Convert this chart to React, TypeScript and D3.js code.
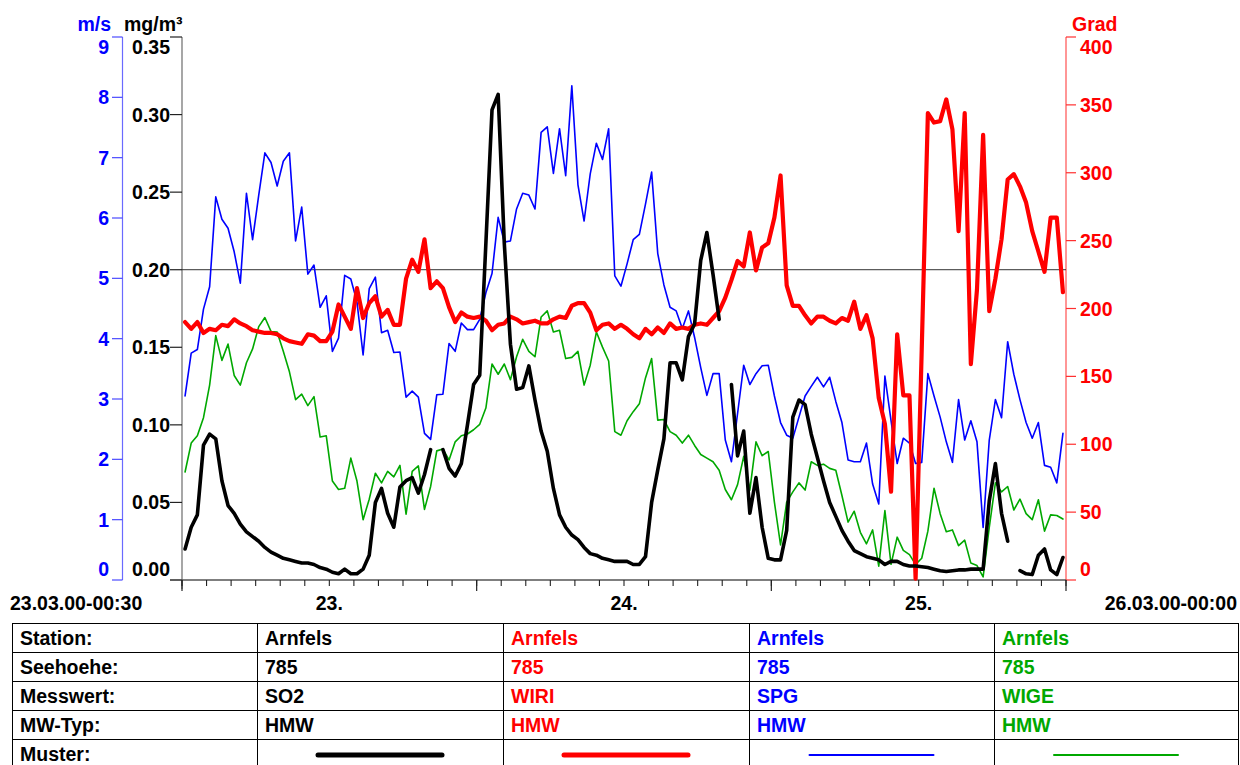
import React from 'react';
import * as d3 from 'd3';

// ---------------- data (half-hour means, 23.03.00 00:30 … 26.03.00 00:00) ----------------
const so2: (number | null)[] = [
  0.020, 0.034, 0.042, 0.087, 0.094, 0.091, 0.064, 0.048, 0.043, 0.036, 0.031, 0.028, 0.025, 0.021, 0.018, 0.016, 0.014, 0.013, 0.012, 0.011, 0.011, 0.010, 0.008, 0.007,
  0.005, 0.004, 0.007, 0.004, 0.004, 0.007, 0.016, 0.050, 0.059, 0.043, 0.034, 0.060, 0.064, 0.066, 0.056, 0.068, 0.084, null, 0.084, 0.072, 0.067, 0.075, 0.100, 0.126,
  0.132, 0.217, 0.303, 0.313, 0.217, 0.152, 0.123, 0.124, 0.138, 0.116, 0.096, 0.083, 0.059, 0.042, 0.034, 0.029, 0.026, 0.021, 0.017, 0.016, 0.014, 0.013, 0.012, 0.012,
  0.012, 0.010, 0.010, 0.015, 0.050, 0.071, 0.091, 0.140, 0.140, 0.129, 0.157, 0.165, 0.206, 0.224, 0.197, 0.168, null, 0.126, 0.080, 0.096, 0.043, 0.066, 0.034, 0.014,
  0.013, 0.013, 0.032, 0.105, 0.116, 0.113, 0.094, 0.079, 0.064, 0.050, 0.041, 0.032, 0.025, 0.019, 0.017, 0.015, 0.014, 0.013, 0.010, 0.012, 0.012, 0.010, 0.009, 0.009,
  0.0085, 0.008, 0.007, 0.006, 0.0055, 0.006, 0.0065, 0.0065, 0.007, 0.007, 0.007, 0.051, 0.075, 0.043, 0.025, null, 0.006, 0.004, 0.0035, 0.016, 0.020, 0.0065, 0.0035, 0.0145,
];

const wiri: number[] = [
  190, 185, 190, 182, 185, 184, 188, 187, 192, 189, 187, 184, 183, 182, 182, 181, 178, 176, 175, 174, 181, 180, 176, 176,
  183, 203, 194, 185, 215, 193, 204, 209, 194, 199, 188, 188, 222, 236, 227, 251, 215, 220, 215, 201, 190, 197, 194, 193,
  194, 191, 184, 188, 189, 194, 192, 189, 190, 191, 189, 189, 192, 194, 193, 202, 204, 204, 197, 184, 188, 189, 185, 188,
  185, 181, 178, 185, 181, 186, 182, 189, 185, 186, 185, 188, 189, 188, 193, 198, 208, 221, 235, 231, 256, 228, 245, 248,
  267, 298, 217, 202, 202, 195, 189, 194, 194, 191, 189, 193, 191, 205, 185, 195, 178, 134, 115, 65, 181, 136, 136, 1,
  170, 344, 337, 338, 354, 332, 257, 344, 159, 214, 328, 198, 222, 251, 295, 299, 290, 278, 257, 242, 227, 267, 267, 212,
];

const spg: number[] = [
  3.05, 3.76, 3.82, 4.49, 4.86, 6.35, 5.98, 5.83, 5.44, 4.92, 6.41, 5.64, 6.38, 7.08, 6.92, 6.53, 6.94, 7.08, 5.62, 6.18, 5.07, 5.22, 4.52, 4.71,
  3.79, 4.01, 5.05, 4.99, 4.61, 3.73, 4.83, 5.02, 4.10, 4.14, 3.77, 3.78, 3.03, 3.13, 3.03, 2.43, 2.33, 3.07, 3.08, 3.92, 3.79, 4.26, 4.15, 4.15,
  4.32, 4.76, 5.08, 6.01, 5.60, 5.62, 6.15, 6.41, 6.38, 6.15, 7.42, 7.51, 6.74, 7.48, 6.70, 8.19, 6.55, 5.95, 6.73, 7.24, 6.97, 7.48, 5.04, 4.87,
  5.24, 5.64, 5.73, 6.23, 6.76, 5.41, 4.89, 4.52, 4.46, 4.17, 4.46, 4.02, 3.52, 3.06, 3.42, 3.42, 2.32, 1.96, 2.76, 3.56, 3.24, 3.42, 3.55, 3.56,
  3.05, 2.61, 2.40, 2.35, 2.70, 3.05, 3.21, 3.36, 3.20, 3.36, 2.96, 2.61, 1.99, 1.96, 1.96, 2.27, 1.59, 1.26, 3.38, 2.64, 1.93, 2.35, 2.27, 1.93,
  1.95, 3.42, 3.05, 2.70, 2.29, 1.95, 2.99, 2.32, 2.64, 2.29, 0.87, 2.32, 2.99, 2.69, 3.95, 3.41, 2.99, 2.61, 2.35, 2.61, 1.90, 1.87, 1.61, 2.43,
];

const wige: number[] = [
  1.79, 2.27, 2.39, 2.69, 3.23, 4.05, 3.64, 3.91, 3.39, 3.23, 3.60, 3.83, 4.20, 4.35, 4.12, 4.11, 3.79, 3.45, 2.99, 3.08, 2.89, 3.04, 2.37, 2.39,
  1.64, 1.50, 1.52, 2.02, 1.64, 1.00, 1.34, 1.77, 1.61, 1.80, 1.71, 1.90, 1.09, 1.80, 1.89, 1.17, 1.55, 2.14, 2.17, 1.99, 2.29, 2.39, 2.42, 2.49,
  2.58, 2.85, 3.58, 3.41, 3.58, 3.32, 3.70, 3.99, 3.79, 3.70, 4.36, 4.46, 4.11, 4.14, 3.67, 3.69, 3.79, 3.23, 3.56, 4.11, 3.86, 3.63, 2.46, 2.40,
  2.64, 2.79, 2.92, 3.35, 3.67, 2.65, 2.66, 2.46, 2.40, 2.27, 2.40, 2.23, 2.08, 2.02, 1.96, 1.82, 1.50, 1.33, 1.58, 2.05, 1.49, 2.29, 2.06, 2.13,
  1.29, 0.58, 1.29, 1.46, 1.61, 1.49, 1.96, 1.90, 1.92, 1.85, 1.82, 1.40, 0.96, 1.14, 0.79, 0.60, 0.83, 0.23, 1.15, 0.26, 0.71, 0.49, 0.42, 0.26,
  0.36, 0.81, 1.52, 1.10, 0.80, 0.83, 0.57, 0.66, 0.28, 0.24, 0.05, 0.87, 1.61, 1.46, 1.55, 1.16, 1.34, 1.10, 1.00, 1.33, 0.81, 1.08, 1.07, 1.01,
];

const so2Ticks = [0, 0.05, 0.1, 0.15, 0.2, 0.25, 0.3, 0.35];
const wiriTicks = [0, 50, 100, 150, 200, 250, 300, 350, 400];
const spgTicks = [0, 1, 2, 3, 4, 5, 6, 7, 8, 9];
const limitValue = 0.2;

const startLabel = '23.03.00-00:30';
const endLabel = '26.03.00-00:00';

const rowLabels = ['Station:', 'Seehoehe:', 'Messwert:', 'MW-Typ:', 'Muster:'];
const stations = ['Arnfels', 'Arnfels', 'Arnfels', 'Arnfels'];
const heights = ['785', '785', '785', '785'];
const components = ['SO2', 'WIRI', 'SPG', 'WIGE'];
const mwTypes = ['HMW', 'HMW', 'HMW', 'HMW'];
const colors = ['#000000', '#ff0000', '#0000ff', '#00a800'];
const widths = [3.6, 4.2, 1.6, 1.6];
const legendWidths = [5, 5, 2, 2];

// ---------------- layout ----------------
const W = 1240;
const H = 765;
const L = 182;
const R = 1066;
const T = 37;
const B = 580;
const FONT = "'Liberation Sans', Arial, Helvetica, sans-serif";
const FS = 19.5;

const t0 = new Date(2000, 2, 23, 0, 0);
const t1 = new Date(2000, 2, 26, 0, 0);
const times = d3.range(144).map((i) => new Date(2000, 2, 23, 0, 15 + 30 * i));

const x = d3.scaleTime().domain([t0, t1]).range([L, R]);
const ySo2 = d3.scaleLinear().domain([0, 0.35]).range([B, T]);
const yWiri = d3.scaleLinear().domain([0, 400]).range([B, T]);
const ySpg = d3.scaleLinear().domain([0, 9]).range([B, T]);

const clampLabel = (y: number) => Math.max(T + 9.5, Math.min(B - 11, y));

function mkLine(scale: d3.ScaleLinear<number, number>) {
  return d3
    .line<number | null>()
    .defined((d) => d !== null && !isNaN(d as number))
    .x((_, i) => x(times[i]))
    .y((d) => scale(d as number));
}

const tableCols = [12, 257, 503, 749, 994, 1238];
const tableRows = [623, 652, 681, 710, 739, 768];

export default function App() {
  const minorTicks = d3.timeHour.every(2)!.range(t0, new Date(+t1 + 1));
  const dayTicks = d3.timeDay.range(t0, new Date(+t1 + 1));
  const dayLabels = d3.timeDay.range(t0, t1).map((d) => d3.timeHour.offset(d, 12));
  const fmtDay = d3.timeFormat('%d.');

  const series = [
    { data: wige, y: ySpg, c: colors[3], w: widths[3] },
    { data: spg, y: ySpg, c: colors[2], w: widths[2] },
    { data: wiri, y: yWiri, c: colors[1], w: widths[1] },
    { data: so2, y: ySo2, c: colors[0], w: widths[0] },
  ];

  const tableValues = [stations, heights, components, mwTypes];

  return (
    <svg
      width={W}
      height={H}
      style={{ position: 'absolute', left: 0, top: 0, background: '#fff' }}
      fontFamily={FONT}
      fontWeight="bold"
      fontSize={FS}
    >
      <rect x={0} y={0} width={W} height={H} fill="#fff" />

      {/* unit labels */}
      <text x={111} y={31} textAnchor="end" fill="#0000ff">m/s</text>
      <text x={124} y={31} fill="#000">mg/m³</text>
      <text x={1072} y={31} fill="#ff0000">Grad</text>

      {/* blue axis (m/s) */}
      <line x1={122.5} x2={122.5} y1={T} y2={B} stroke="#6a6aff" strokeWidth={1.2} />
      {spgTicks.map((v) => (
        <g key={'b' + v}>
          <line x1={112} x2={122.5} y1={ySpg(v)} y2={ySpg(v)} stroke="#4a4aff" strokeWidth={1.2} />
          <text x={109} y={clampLabel(ySpg(v))} dy="0.36em" textAnchor="end" fill="#0000ff">
            {v}
          </text>
        </g>
      ))}

      {/* black axis (mg/m3) */}
      <line x1={L} x2={L} y1={T} y2={B + 9} stroke="#777" strokeWidth={1.3} />
      {so2Ticks.map((v) => (
        <g key={'k' + v}>
          <line x1={170} x2={L} y1={ySo2(v)} y2={ySo2(v)} stroke="#222" strokeWidth={1.2} />
          <text x={170} y={clampLabel(ySo2(v))} dy="0.36em" textAnchor="end" fill="#000">
            {d3.format('.2f')(v)}
          </text>
        </g>
      ))}

      {/* red axis (Grad) */}
      <line x1={R} x2={R} y1={T} y2={B} stroke="#ff5050" strokeWidth={1.2} />
      {wiriTicks.map((v) => (
        <g key={'r' + v}>
          <line x1={R} x2={1076} y1={yWiri(v)} y2={yWiri(v)} stroke="#ff3030" strokeWidth={1.2} />
          <text x={1080} y={clampLabel(yWiri(v))} dy="0.36em" fill="#ff0000">
            {v}
          </text>
        </g>
      ))}

      {/* limit line */}
      <line x1={L} x2={R} y1={ySo2(limitValue)} y2={ySo2(limitValue)} stroke="#333" strokeWidth={1} />

      {/* x axis */}
      <line x1={170} x2={R} y1={B} y2={B} stroke="#555" strokeWidth={1.3} />
      {minorTicks.map((d, i) => (
        <line key={'m' + i} x1={x(d)} x2={x(d)} y1={B} y2={B + 6} stroke="#222" strokeWidth={1.1} />
      ))}
      {dayTicks.map((d, i) => (
        <line key={'d' + i} x1={x(d)} x2={x(d)} y1={B} y2={B + 11} stroke="#222" strokeWidth={1.2} />
      ))}
      {dayLabels.map((d, i) => (
        <text key={'l' + i} x={x(d)} y={610} textAnchor="middle" fill="#000">
          {fmtDay(d)}
        </text>
      ))}
      <text x={10} y={610} fill="#000">{startLabel}</text>
      <text x={1237} y={610} textAnchor="end" fill="#000">{endLabel}</text>

      {/* series */}
      {series.map((s, i) => (
        <path
          key={'s' + i}
          d={mkLine(s.y)(s.data as (number | null)[]) || ''}
          fill="none"
          stroke={s.c}
          strokeWidth={s.w}
          strokeLinejoin="round"
          strokeLinecap="round"
        />
      ))}

      {/* table */}
      <g stroke="#000" strokeWidth={1}>
        {tableRows.map((y, i) => (
          <line key={'tr' + i} x1={tableCols[0]} x2={tableCols[5]} y1={y + 0.5} y2={y + 0.5} />
        ))}
        {tableCols.map((cx, i) => (
          <line key={'tc' + i} x1={cx + 0.5} x2={cx + 0.5} y1={tableRows[0]} y2={H} />
        ))}
      </g>
      {rowLabels.map((lab, r) => (
        <text key={'rl' + r} x={20} y={tableRows[r] + 22} fill="#000">
          {lab}
        </text>
      ))}
      {tableValues.map((row, r) =>
        row.map((v, c) => (
          <text key={'tv' + r + '-' + c} x={tableCols[c + 1] + 8} y={tableRows[r] + 22} fill={colors[c]}>
            {v}
          </text>
        ))
      )}
      {colors.map((c, i) => {
        const cx = (tableCols[i + 1] + tableCols[i + 2]) / 2;
        return (
          <line
            key={'lg' + i}
            x1={cx - 62}
            x2={cx + 62}
            y1={755}
            y2={755}
            stroke={c}
            strokeWidth={legendWidths[i]}
            strokeLinecap="round"
          />
        );
      })}
    </svg>
  );
}
